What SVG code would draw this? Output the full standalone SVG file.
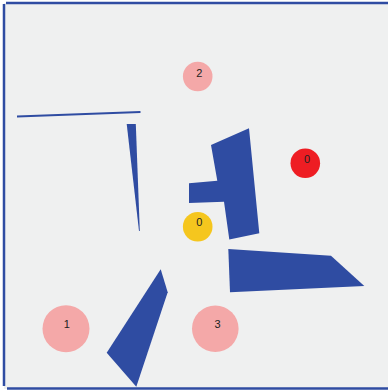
<svg xmlns="http://www.w3.org/2000/svg" width="388" height="392" viewBox="0 0 388 392">
<style>
.frame{stroke:#2f4ca2;stroke-width:2.5;fill:none}
.shape{fill:#2f4ca2}
.wall{stroke:#2f4ca2;stroke-width:2;fill:none}
.pink{fill:#f4a8a8}
.red{fill:#ee1d23}
.yellow{fill:#f5c61e}
.lbl{font-family:"Liberation Sans",Arial,sans-serif;font-size:11px;fill:#222;text-anchor:middle}
</style>
<rect x="0" y="0" width="388" height="392" fill="#ffffff"/>
<rect x="4" y="3" width="384" height="386" fill="#eff0f0"/>
<g id="frame">
<line class="frame" x1="6" y1="3" x2="388" y2="3"/>
<line class="frame" x1="4" y1="4" x2="4" y2="386"/>
<line class="frame" x1="7" y1="388.5" x2="388" y2="388.5"/>
</g>
<g id="connectors">
<line class="wall" x1="17" y1="116.5" x2="140.5" y2="112"/>
</g>
<g id="shapes">
<polygon id="sliver" class="shape" points="126.7,124 135.8,124 139.8,231 139,231"/>
<polygon id="tshape" class="shape" points="211,145 249,128.3 259.3,233.3 229.3,239.5 224,201.7 189,203 189,183.3 217.3,180.7"/>
<polygon id="wedge" class="shape" points="228.3,249 331,255.7 364.3,286 230,292.3"/>
<polygon id="kite" class="shape" points="160.7,269.3 167.7,292.3 136.3,386.7 106.7,352.7"/>
</g>
<g id="node-2"><circle class="pink" cx="197.7" cy="76.5" r="14.8"/><text class="lbl" x="199.3" y="76.5">2</text></g>
<g id="node-red-0"><circle class="red" cx="305.3" cy="163.3" r="14.8"/><text class="lbl" x="307" y="163">0</text></g>
<g id="node-yellow-0"><circle class="yellow" cx="197.7" cy="226.7" r="14.8"/><text class="lbl" x="199.3" y="226.3">0</text></g>
<g id="node-1"><circle class="pink" cx="66" cy="328.7" r="23.5"/><text class="lbl" x="66.8" y="328.3">1</text></g>
<g id="node-3"><circle class="pink" cx="215.3" cy="328.7" r="23.3"/><text class="lbl" x="217.5" y="328.3">3</text></g>
</svg>
